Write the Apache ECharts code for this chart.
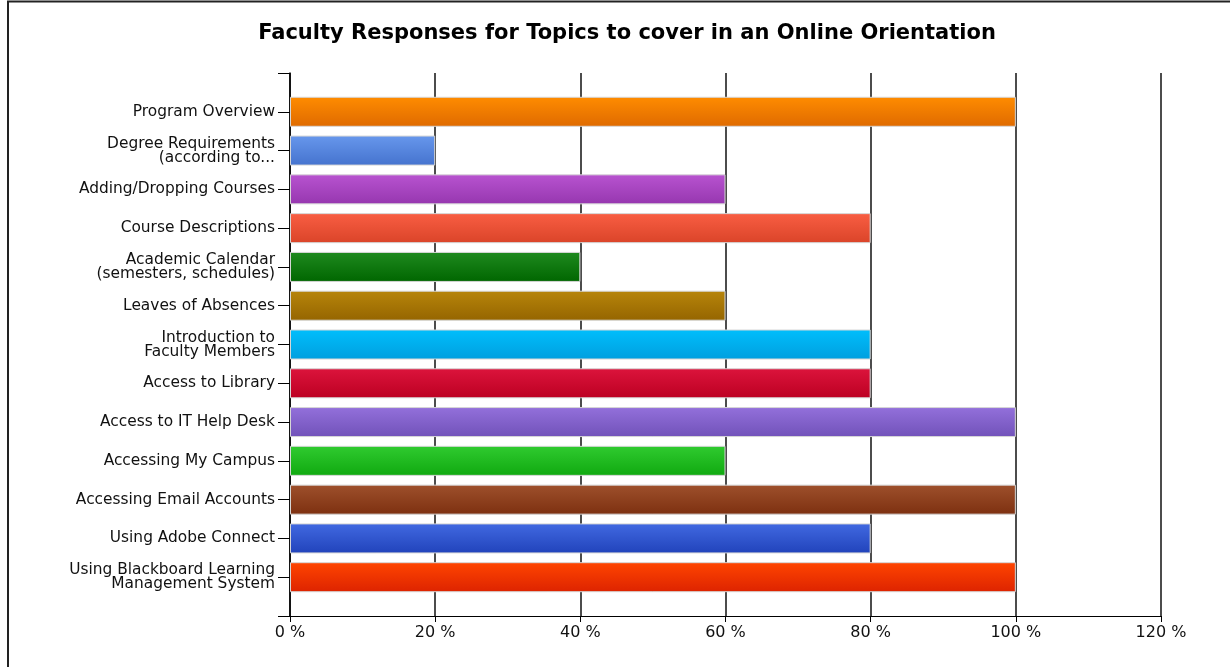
<!DOCTYPE html>
<html>
<head>
<meta charset="utf-8">
<title>Faculty Responses for Topics to cover in an Online Orientation</title>
<script src="https://cdn.jsdelivr.net/npm/echarts@6/dist/echarts.min.js"></script>
<style>
  html, body { margin: 0; padding: 0; background: #fff; }
  #chart { width: 1230px; height: 667px; }
</style>
</head>
<body>
<div id="chart"></div>
<script>
// Topics asked about, top to bottom
const topics = [
  'Program Overview',
  'Degree Requirements\n(according to...',
  'Adding/Dropping Courses',
  'Course Descriptions',
  'Academic Calendar\n(semesters, schedules)',
  'Leaves of Absences',
  'Introduction to\nFaculty Members',
  'Access to Library',
  'Access to IT Help Desk',
  'Accessing My Campus',
  'Accessing Email Accounts',
  'Using Adobe Connect',
  'Using Blackboard Learning\nManagement System'
];

// Share of faculty responses per topic (%)
const responses = [100, 20, 60, 80, 40, 60, 80, 80, 100, 60, 100, 80, 100];

// Bar fills: light (top) and dark (bottom) end of each gradient
const topColors = ['#FF8C00', '#6797EC', '#B853D0', '#F95E43', '#1F8A1F', '#B7850B', '#00BEFC', '#DC143C', '#9370DB', '#30CB30', '#9E502C', '#4169E1', '#FF4500'];
const bottomColors = ['#DF6A00', '#4573CE', '#9637AF', '#DA4429', '#006600', '#956500', '#009FDF', '#BC0022', '#7152B9', '#10A910', '#7D3010', '#2143BB', '#DD2300'];

// Value axis tick values
const xTicks = [0, 20, 40, 60, 80, 100, 120];

// One empty slot above and below the topics keeps the bars off the axis ends
const yCategories = [''].concat(topics, ['']);

const barData = [null].concat(responses.map(function (v, i) {
  return {
    value: v,
    itemStyle: {
      color: new echarts.graphic.LinearGradient(0, 0, 0, 1, [
        { offset: 0, color: topColors[i] },
        { offset: 1, color: bottomColors[i] }
      ])
    }
  };
}), [null]);

const FONT = 'DejaVu Sans, Verdana, sans-serif';

const chart = echarts.init(document.getElementById('chart'), null, { renderer: 'canvas' });

chart.setOption({
  backgroundColor: '#fff',
  animation: false,
  title: {
    text: 'Faculty Responses for Topics to cover in an Online Orientation',
    left: 622,
    top: 18,
    textAlign: 'center',
    textStyle: {
      fontFamily: FONT,
      fontSize: 21,
      fontWeight: 'bold',
      color: '#000'
    }
  },
  graphic: [{
    type: 'rect',
    shape: { x: 8, y: 1.5, width: 1240, height: 700 },
    style: { fill: 'none', stroke: '#222', lineWidth: 2 },
    silent: true
  }],
  grid: { left: 290, right: 69, top: 73, bottom: 51, containLabel: false },
  xAxis: {
    type: 'value',
    min: xTicks[0],
    max: xTicks[xTicks.length - 1],
    interval: 20,
    axisLine: { show: true, lineStyle: { color: '#000', width: 1 } },
    axisTick: { show: true, length: 6, lineStyle: { color: '#000', width: 1 } },
    axisLabel: {
      formatter: '{value} %',
      margin: 9,
      fontFamily: FONT,
      fontSize: 16,
      color: '#111'
    },
    splitLine: { show: true, lineStyle: { color: '#111', width: 1.5 } }
  },
  yAxis: {
    type: 'category',
    data: yCategories,
    inverse: true,
    boundaryGap: false,
    axisLine: { show: true, lineStyle: { color: '#000', width: 1.5 } },
    axisTick: { show: true, length: 12, lineStyle: { color: '#000', width: 1 } },
    axisLabel: {
      margin: 15,
      interval: 0,
      fontFamily: FONT,
      fontSize: 15.4,
      lineHeight: 14,
      color: '#111',
      align: 'right'
    },
    splitLine: { show: false }
  },
  series: [{
    type: 'bar',
    data: barData,
    barWidth: 30,
    itemStyle: { borderColor: '#d6d6d6', borderWidth: 1 }
  }]
});
</script>
</body>
</html>
